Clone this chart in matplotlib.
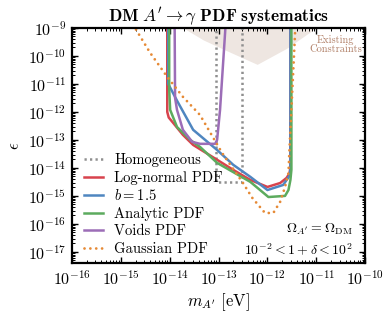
import numpy as np
import matplotlib
matplotlib.use('Agg')
import matplotlib.pyplot as plt
from matplotlib.ticker import LogLocator

plt.rcParams['font.family'] = 'serif'
plt.rcParams['font.serif'] = ['cmr10']
plt.rcParams['mathtext.fontset'] = 'cm'
plt.rcParams['axes.formatter.use_mathtext'] = True

# log10 values (mass in eV, epsilon)
homog_m = [-13.05, -13.05, -12.52, -12.52]
homog_e = [-8.5, -14.5, -14.5, -8.5]

lognorm_m = [-14.05, -14.05, -14.02, -13.93, -13.73, -13.52, -13.03, -12.70,
             -12.35, -12.0, -11.74, -11.61, -11.55, -11.53, -11.53]
lognorm_e = [-8.5, -12.0, -12.2, -12.39, -12.82, -13.18, -13.71, -14.07,
             -14.43, -14.68, -14.54, -14.36, -14.2, -14.0, -8.5]

b15_m = [-14.03, -14.03, -13.94, -13.85, -13.52, -13.03, -12.70, -12.35,
         -12.0, -11.68, -11.55, -11.53, -11.53]
b15_e = [-8.5, -11.0, -11.3, -11.6, -12.64, -13.36, -13.89, -14.32,
         -14.79, -14.61, -14.29, -14.07, -8.5]

analytic_m = [-14.01, -14.01, -13.99, -13.85, -13.58, -13.38, -13.03, -12.35,
              -11.98, -11.64, -11.57, -11.53, -11.51, -11.51]
analytic_e = [-8.5, -11.2, -11.93, -12.54, -13.0, -13.25, -13.82, -14.5,
              -15.04, -15.0, -14.79, -14.43, -14.07, -8.5]

voids_m = [-13.90, -13.89, -13.85, -13.73, -13.54, -13.38, -13.07, -13.03,
           -12.97, -12.86, -12.84]
voids_e = [-8.5, -11.5, -11.93, -12.64, -13.07, -13.14, -13.14, -13.0,
           -11.93, -9.0, -8.5]

gauss_m = [-14.85, -14.71, -14.40, -14.05, -13.73, -13.38, -12.93, -12.50,
           -12.31, -12.05, -11.88, -11.74, -11.64, -11.57, -11.55, -11.51,
           -11.43, -11.42]
gauss_e = [-8.5, -9.0, -9.89, -10.75, -11.46, -12.11, -13.46, -14.54,
           -15.07, -15.61, -15.61, -15.21, -14.68, -14.18, -13.36, -11.93,
           -9.0, -8.5]

constr_m = [-13.9, -13.73, -13.3, -12.8, -12.2, -11.6, -10.98, -10.8]
constr_e = [-8.7, -9.0, -9.45, -9.85, -10.32, -9.75, -9.0, -8.7]

fig = plt.figure(figsize=(3.91, 3.17), dpi=100)
ax = fig.add_axes([0.184, 0.170, 0.750, 0.742])

ax.fill(10**np.array(constr_m), 10**np.array(constr_e), color='#eee6e1',
        lw=0, zorder=0)
ax.text(10**-10.6, 10**-9.6, 'Existing\nConstraints', color='#b07f66',
        fontsize=7.5, ha='center', va='center', linespacing=1.0)

ax.plot(10**np.array(homog_m), 10**np.array(homog_e), color='#8f8f8f',
        lw=1.8, ls=(0, (0.9, 1.3)), label='Homogeneous')
ax.plot(10**np.array(lognorm_m), 10**np.array(lognorm_e), color='#d8434d',
        lw=1.8, label='Log-normal PDF')
ax.plot(10**np.array(b15_m), 10**np.array(b15_e), color='#4f86c0',
        lw=1.8, label=r'$b=1.5$')
ax.plot(10**np.array(analytic_m), 10**np.array(analytic_e), color='#5cab5e',
        lw=1.8, label='Analytic PDF')
ax.plot(10**np.array(voids_m), 10**np.array(voids_e), color='#9c6db7',
        lw=1.8, label='Voids PDF')
ax.plot(10**np.array(gauss_m), 10**np.array(gauss_e), color='#e68a36',
        lw=2.0, ls=(0, (0.01, 2.1)), dash_capstyle='round', label='Gaussian PDF')

ax.set_xscale('log')
ax.set_yscale('log')
ax.set_xlim(1e-16, 1e-10)
ax.set_ylim(10**-17.4, 1e-9)
ax.xaxis.set_major_locator(LogLocator(base=10, numticks=20))
ax.yaxis.set_major_locator(LogLocator(base=10, numticks=20))
ax.xaxis.set_minor_locator(LogLocator(base=10, subs=np.arange(2, 10), numticks=20))
ax.yaxis.set_minor_locator(LogLocator(base=10, subs=np.arange(2, 10), numticks=20))
ax.tick_params(which='both', direction='in', top=True, right=True)
ax.tick_params(which='major', length=4.5, width=1.0, labelsize=11.5, pad=4)
ax.tick_params(which='minor', length=2.5, width=0.7)
for s in ax.spines.values():
    s.set_linewidth(1.6)

ax.set_xlabel(r"$m_{A^\prime}\ [\mathrm{eV}]$", fontsize=12, labelpad=3)
ax.set_ylabel(r'$\epsilon$', fontsize=12, labelpad=4)
ax.set_title(r"$\mathbf{DM}\ A^\prime\to\gamma\ \mathbf{PDF\ systematics}$",
             fontsize=12.5, pad=4)

ax.text(10**-10.26, 10**-16.18, r'$\Omega_{A^\prime}=\Omega_{\rm DM}$',
        fontsize=10, ha='right', va='center')
ax.text(10**-10.26, 10**-16.93, r'$10^{-2}<1+\delta<10^{2}$',
        fontsize=10, ha='right', va='center')

ax.legend(loc='upper left', bbox_to_anchor=(0.02, 0.493), frameon=False,
          fontsize=10.5, handlelength=1.3, labelspacing=0.25,
          borderaxespad=0.0, handletextpad=0.8)

fig.savefig('out.png', dpi=100)
